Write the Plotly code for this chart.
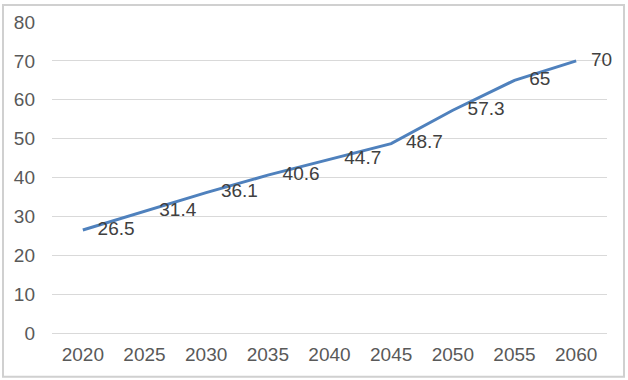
import plotly.graph_objects as go

years = ["2020", "2025", "2030", "2035", "2040", "2045", "2050", "2055", "2060"]
values = [26.5, 31.4, 36.1, 40.6, 44.7, 48.7, 57.3, 65, 70]
labels = ["26.5", "31.4", "36.1", "40.6", "44.7", "48.7", "57.3", "65", "70"]

FONT = "Liberation Sans, Arial, sans-serif"

fig = go.Figure()
fig.add_trace(go.Scatter(
    x=years, y=values, mode="lines+markers+text",
    text=labels, textposition="middle right",
    textfont=dict(family=FONT, size=19, color="#404040"),
    line=dict(color="#4F81BD", width=3),
    marker=dict(size=22, color="rgba(0,0,0,0)"),
    cliponaxis=False, showlegend=False, hoverinfo="skip",
))

fig.update_layout(
    width=628, height=380,
    margin=dict(l=52, r=21, t=20, b=47),
    paper_bgcolor="white", plot_bgcolor="white",
    font=dict(family=FONT, size=19, color="#595959"),
    xaxis=dict(type="category", range=[-0.5, 8.5], showgrid=False, showline=False,
               ticks="", zeroline=False, ticklabelstandoff=8,
               tickfont=dict(size=19, color="#595959")),
    yaxis=dict(range=[0, 80], dtick=10, showgrid=True, gridcolor="#D9D9D9", gridwidth=1,
               showline=False, zeroline=True, zerolinecolor="#D9D9D9", zerolinewidth=1,
               ticks="", ticklabelstandoff=16, tickfont=dict(size=19, color="#595959")),
)

# outer chart border
W, H = 628, 380
pw, ph = W - 52 - 21, H - 20 - 47
def px(x):
    return (x - 52) / pw
def py(y):
    return (H - 47 - y) / ph
fig.add_shape(type="rect", xref="paper", yref="paper",
              x0=px(3), x1=px(624), y0=py(377), y1=py(3),
              line=dict(color="#D0D0D0", width=2), layer="below")

fig.write_html("out.html", config={"displayModeBar": False},
               post_script="document.body.style.margin='0';")
